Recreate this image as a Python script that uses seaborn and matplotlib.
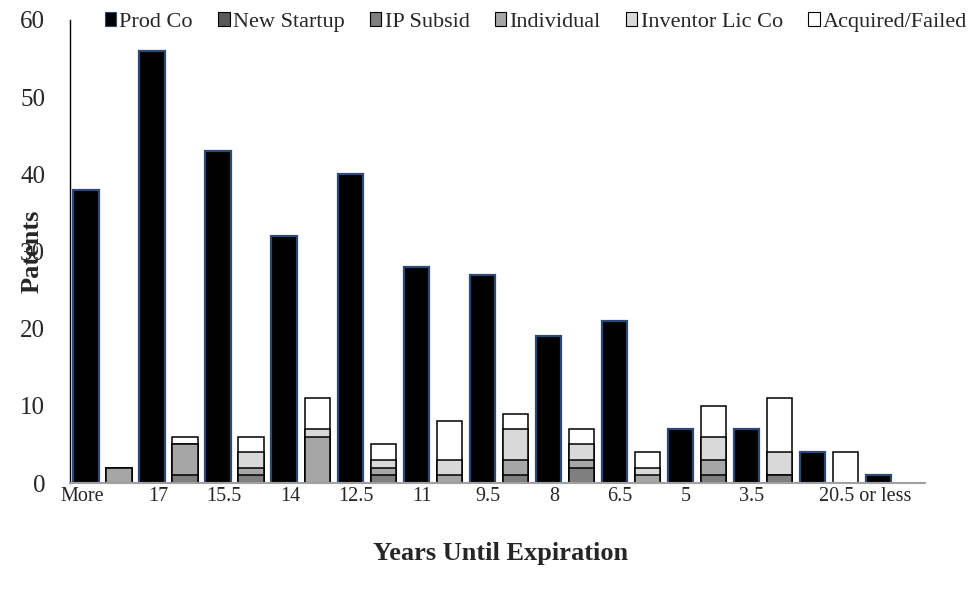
import matplotlib
matplotlib.use("Agg")
import matplotlib.pyplot as plt
from matplotlib.patches import Patch
import seaborn as sns
import pandas as pd
import numpy as np

# ---- data ----
tick_labels = ["More", "17", "15.5", "14", "12.5", "11", "9.5", "8", "6.5", "5", "3.5", "20.5 or less"]
prod_co = [38, 56, 43, 32, 40, 28, 27, 19, 21, 7, 7, 4, 1]
new_startup = [0, 0, 0, 0, 0, 0, 0, 0, 0, 0, 0, 0]
ip_subsid = [0, 1, 1, 0, 1, 0, 1, 2, 0, 1, 1, 0]
individual = [2, 4, 1, 6, 1, 1, 2, 1, 1, 2, 0, 0]
inventor_lic = [0, 0, 2, 1, 1, 2, 4, 2, 1, 3, 3, 0]
acquired = [0, 1, 2, 4, 2, 5, 2, 2, 2, 4, 7, 4]

series_names = ["Prod Co", "New Startup", "IP Subsid", "Individual", "Inventor Lic Co", "Acquired/Failed"]
colors = {"Prod Co": "#000000", "New Startup": "#595959", "IP Subsid": "#7f7f7f",
          "Individual": "#a6a6a6", "Inventor Lic Co": "#d9d9d9", "Acquired/Failed": "#ffffff"}

sns.set_theme(style="white")
plt.rcParams["font.family"] = ["Liberation Serif", "DejaVu Serif"]

fig = plt.figure(figsize=(9.71, 5.94), dpi=100)
ax = fig.add_axes([70/971, 1-483/594, (925-70)/971, (483-20)/594])

# positions: black bars on even slots, stacked bars on odd slots
prod_pos = [2*i for i in range(len(prod_co))]
stack_pos = [2*i+1 for i in range(len(acquired))]

df_prod = pd.DataFrame({"pos": prod_pos, "val": prod_co})
sns.barplot(data=df_prod, x="pos", y="val", native_scale=True, width=0.38,
            color="#000000", edgecolor="#2b4876", linewidth=1.6, saturation=1, ax=ax)

stack_order = ["New Startup", "IP Subsid", "Individual", "Inventor Lic Co", "Acquired/Failed"]
stack_vals = [new_startup, ip_subsid, individual, inventor_lic, acquired]
cums = np.cumsum(np.array(stack_vals), axis=0)
# draw from the full stack down so each lower cumulative overlays the upper ones
for k in range(len(stack_order)-1, -1, -1):
    name = stack_order[k]
    df_s = pd.DataFrame({"pos": stack_pos, "val": cums[k]})
    sns.barplot(data=df_s, x="pos", y="val", native_scale=True, width=0.38,
                color=colors[name], edgecolor="#000000", linewidth=1.1, saturation=1, ax=ax)

ax.set_xlim(-0.485, 25.42)
ax.set_ylim(0, 60)
ax.set_yticks(range(0, 61, 10))
ax.set_yticklabels([str(v) for v in range(0, 61, 10)], fontsize=18)
label_pos = [-0.1] + [2*i + 0.18 for i in range(1, 11)] + [23.6]
ax.set_xticks(label_pos)
ax.set_xticklabels(tick_labels, fontsize=14.5)
ax.tick_params(axis="y", length=0, pad=18)
ax.tick_params(axis="x", length=0, pad=3)

for s in ["top", "right"]:
    ax.spines[s].set_visible(False)
ax.spines["left"].set_color("#000000")
ax.spines["left"].set_linewidth(1.0)
ax.spines["bottom"].set_color("#a0a0a0")
ax.spines["bottom"].set_linewidth(1.5)

ax.set_ylabel("Patents", fontsize=19, fontweight="bold")
ax.yaxis.set_label_coords(-0.031, 0.5)
ax.set_xlabel("Years Until Expiration", fontsize=19, fontweight="bold")
ax.xaxis.set_label_coords(0.503, -0.127)

handles = []
for n in series_names:
    ec = "#2b4876" if n == "Prod Co" else "#000000"
    handles.append(Patch(facecolor=colors[n], edgecolor=ec, linewidth=0.8, label=n))
fig.legend(handles=handles, loc="center", bbox_to_anchor=(536/971, 1-22/594), ncol=6,
           frameon=False, fontsize=16, handlelength=0.5, handleheight=0.6,
           handletextpad=0.15, columnspacing=1.15, borderaxespad=0)

fig.savefig("out.png", dpi=100)
